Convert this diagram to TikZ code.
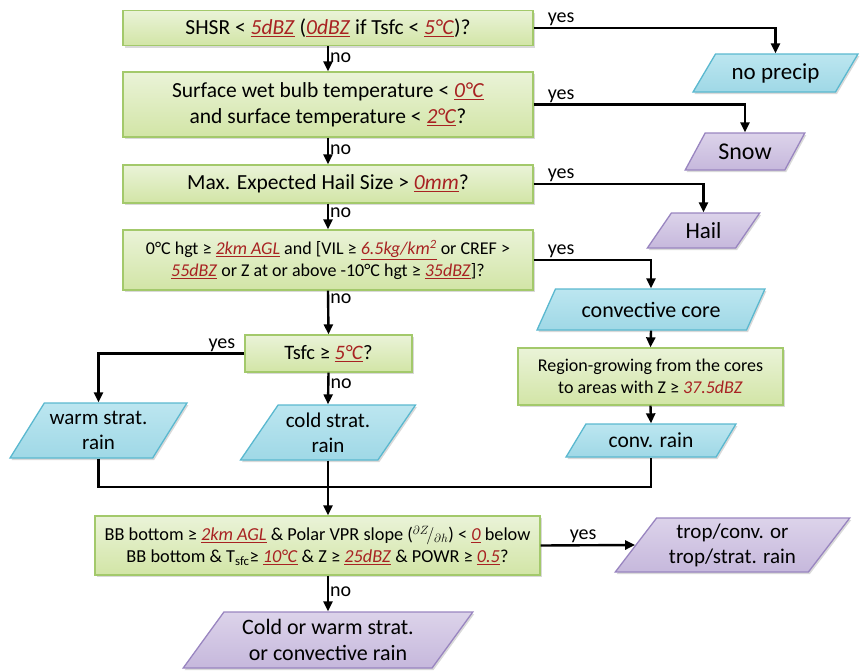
\documentclass[tikz,border=0pt]{standalone}
\usepackage{fontspec}
\setmainfont{Carlito}
\usetikzlibrary{arrows.meta,shapes.geometric,shadows}
\definecolor{gtop}{HTML}{EAF3D8}
\definecolor{gbot}{HTML}{D2E5A6}
\definecolor{gborder}{HTML}{A3C96B}
\definecolor{btop}{HTML}{BCE6F0}
\definecolor{bbot}{HTML}{9FD8E6}
\definecolor{bborder}{HTML}{5AB8CF}
\definecolor{ptop}{HTML}{DCD3EA}
\definecolor{pbot}{HTML}{C6B8DC}
\definecolor{pborder}{HTML}{9985C0}
\definecolor{redv}{HTML}{A82222}
\newcommand{\rv}[1]{\textcolor{redv}{\underline{\textit{#1}}}}
\newcommand{\fs}[2]{\fontsize{#1}{#2}\selectfont}
\begin{document}
\begin{tikzpicture}[x=1pt,y=-1pt,
  shad/.style={drop shadow={shadow xshift=1.5pt,shadow yshift=-2pt,opacity=0.25,fill=black!60}},
  cond/.style={draw=gborder,line width=1.3pt,top color=gtop,bottom color=gbot,align=center,inner sep=2pt,shad},
  para/.style={trapezium,trapezium left angle=52,trapezium right angle=128,trapezium stretches=true,line width=1.3pt,align=center,inner sep=1pt,shad},
  bluep/.style={para,draw=bborder,top color=btop,bottom color=bbot},
  purp/.style={para,draw=pborder,top color=ptop,bottom color=pbot},
  conn/.style={line width=2.4pt,-{Triangle[length=10pt,width=9pt]}},
  plain/.style={line width=2.4pt},
  lab/.style={font=\fs{20}{22},inner sep=1pt}]
\useasboundingbox (0,0) rectangle (865,672);

% condition boxes
\node[cond,minimum width=410pt,minimum height=35pt,font=\fs{21.5}{25}] (b1) at (328,28)
  {SHSR < \rv{5dBZ} (\rv{0dBZ} if Tsfc < \rv{5°C})?};
\node[cond,minimum width=410pt,minimum height=65pt,font=\fs{21.5}{26}] (b2) at (328,104.5)
  {Surface wet bulb temperature < \rv{0°C}\\and surface temperature < \rv{2°C}?};
\node[cond,minimum width=410pt,minimum height=38pt,font=\fs{21.5}{25}] (b3) at (328,184)
  {Max. Expected Hail Size > \rv{0mm}?};
\node[cond,minimum width=410pt,minimum height=60pt,font=\fs{18}{22}] (b4) at (328,260)
  {0°C hgt ≥ \rv{2km AGL} and [VIL ≥ \rv{6.5kg/km\textsuperscript{2}} or CREF >\\\rv{55dBZ} or Z at or above -10°C hgt ≥ \rv{35dBZ}]?};
\node[cond,minimum width=167pt,minimum height=37pt,font=\fs{20.5}{24}] (b5) at (328.5,353.5)
  {Tsfc ≥ \rv{5°C}?};
\node[cond,minimum width=265pt,minimum height=57pt,font=\fs{18}{22}] (b6) at (650.5,376.5)
  {Region-growing from the cores\\to areas with Z ≥ \textcolor{redv}{\textit{37.5dBZ}}};
\node[cond,minimum width=445pt,minimum height=59pt,font=\fs{18.3}{22},inner sep=1pt] (b7) at (317.5,545.5)
  {BB bottom ≥ \rv{2km AGL} \& Polar VPR slope ($^{\partial Z}\!/_{\partial h}$) < \rv{0} below\\BB bottom \& T\textsubscript{sfc}≥ \rv{10°C} \& Z ≥ \rv{25dBZ} \& POWR ≥ \rv{0.5}?};

% outputs
\node[bluep,minimum width=165pt,minimum height=38pt,font=\fs{23}{26}] (np) at (775.5,73) {no precip};
\node[purp,minimum width=120pt,minimum height=37pt,font=\fs{24}{27}] (snow) at (745,151.5) {Snow};
\node[purp,minimum width=113pt,minimum height=35pt,font=\fs{23}{26}] (hail) at (703.5,230.5) {Hail};
\node[bluep,minimum width=228pt,minimum height=41pt,font=\fs{22}{26}] (cc) at (651,309.5) {convective core};
\node[bluep,minimum width=170pt,minimum height=33pt,font=\fs{21.5}{25}] (cr) at (651,440.5) {conv. rain};
\node[bluep,minimum width=177pt,minimum height=55pt,font=\fs{21}{25}] (ws) at (98.5,430.5) {warm strat.\\rain};
\node[bluep,minimum width=175pt,minimum height=55pt,font=\fs{21}{25}] (cs) at (328,432.5) {cold strat.\\rain};
\node[purp,minimum width=235pt,minimum height=54pt,font=\fs{21}{25}] (trop) at (732.5,545) {trop/conv. or\\trop/strat. rain};
\node[purp,minimum width=290pt,minimum height=56pt,font=\fs{22}{26}] (cw) at (328,640) {Cold or warm strat.\\or convective rain};

\coordinate (j) at (328,487);

% yes branches
\draw[conn] (b1.east) node[lab,anchor=south west,xshift=12pt] {yes} -| (np.north);
\draw[conn] (b2.east) node[lab,anchor=south west,xshift=12pt] {yes} -| (snow.north);
\draw[conn] (b3.east) node[lab,anchor=south west,xshift=12pt] {yes} -| (hail.north);
\draw[conn] (b4.east) node[lab,anchor=south west,xshift=12pt] {yes} -| (cc.north);
\draw[conn] (b5.west) node[lab,anchor=south east,xshift=-7pt] {yes} -| (ws.north);
\draw[conn] (b7.east) -- node[lab,above,pos=0.45] {yes} (trop.west);

% no branches
\draw[conn] (b1.south) -- node[lab,right,pos=0.45] {no} (b2.north);
\draw[conn] (b2.south) -- node[lab,right,pos=0.45] {no} (b3.north);
\draw[conn] (b3.south) -- node[lab,right,pos=0.35] {no} (b4.north);
\draw[conn] (b4.south) -- node[lab,right,pos=0.18] {no} (b5.north);
\draw[conn] (b5.south) -- node[lab,right,pos=0.35] {no} (cs.north);
\draw[conn] (cw.north |- b7.south) -- node[lab,right,pos=0.45] {no} (cw.north);

% convective chain
\draw[conn] (cc.south) -- (b6.north);
\draw[conn] (b6.south) -- (cr.north);

% merge
\draw[plain] (ws.south) |- (j) -| (cr.south);
\draw[conn] (cs.south) -- (cs.south |- b7.north);
\end{tikzpicture}
\end{document}
